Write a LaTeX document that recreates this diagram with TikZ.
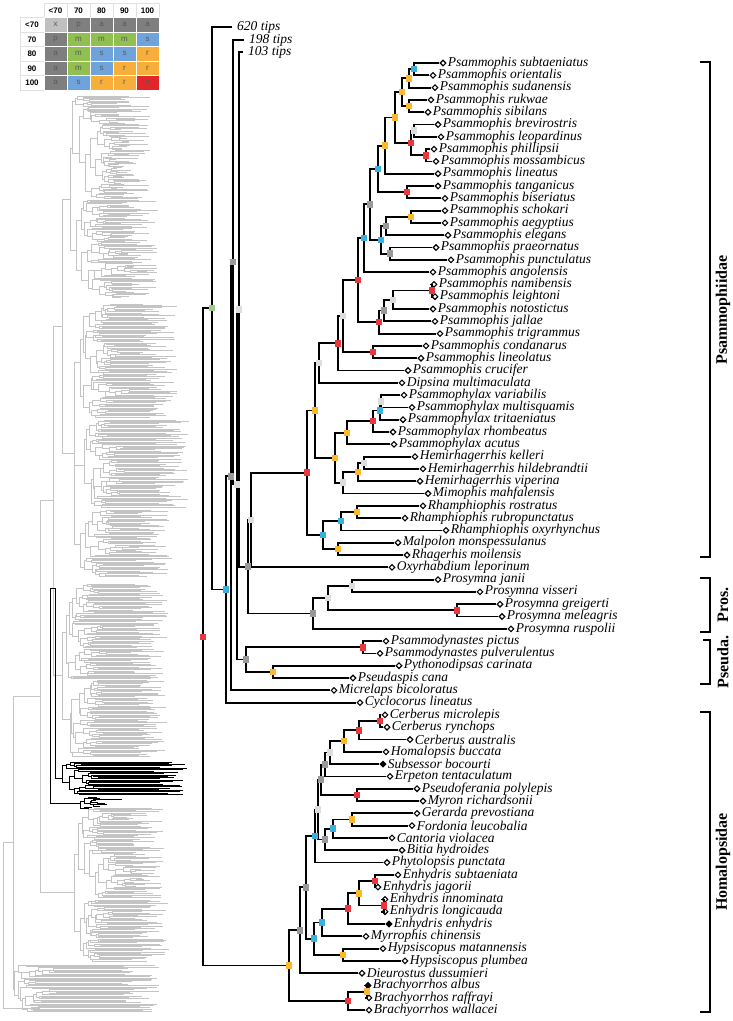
\documentclass[tikz,border=0pt]{standalone}
\usepackage{fontspec}
\setmainfont{Liberation Serif}
\newfontfamily\legendfont{Liberation Sans}
\usetikzlibrary{shapes.geometric,calc}
\pgfdeclarelayer{marks}
\pgfsetlayers{main,marks}
\definecolor{ppyel}{HTML}{F9B82E}
\definecolor{ppblue}{HTML}{3AB0E2}
\definecolor{ppred}{HTML}{E8383D}
\definecolor{ppgray}{HTML}{999999}
\definecolor{pplight}{HTML}{DDDDDD}
\definecolor{ppgreen}{HTML}{9ACD88}
\definecolor{thumbgray}{HTML}{C4C4C4}
\definecolor{cellx}{HTML}{C0C0C0}
\definecolor{cellp}{HTML}{7F7F7F}
\definecolor{cella}{HTML}{7F7F7F}
\definecolor{cellm}{HTML}{92C050}
\definecolor{cells}{HTML}{6FA3DC}
\definecolor{cellr}{HTML}{F7AE3A}
\definecolor{cellu}{HTML}{E3262B}
\newcommand{\tip}[5][]{%
  \node[tip,#1] (#2) at (#3,{63+(#4-1)*12.3}) {};
  \node[taxon] at (#2.east) {#5};}
\newcommand{\clade}[5]{%
  \coordinate (#1m) at ($(#3)!0.5!(#4)$);
  \coordinate (#1) at (#2,0 |- #1m);
  \draw[branch] (#3) -| (#1) |- (#4);
  \begin{pgfonlayer}{marks}\node[sq,fill=#5] at (#1) {};\end{pgfonlayer}}
% random subtree for the overview: top y, tips, x, right limit, style
\newcommand{\rtree}[5]{%
  \ifnum#2<2\relax
    \pgfmathsetmacro\rtend{max(#3+3,#4-rnd*38)}%
    \draw[#5] (#3,#1) -- (\rtend,#1);%
  \else
    \pgfmathtruncatemacro\rtna{max(1,min(#2-1,round(#2*(0.1+0.8*rnd))))}%
    \pgfmathtruncatemacro\rtnb{#2-\rtna}%
    \pgfmathsetmacro\rttb{#1+\rtna*1.3}%
    \pgfmathsetmacro\rtya{#1+(\rtna-1)*0.65}%
    \pgfmathsetmacro\rtyb{\rttb+(\rtnb-1)*0.65}%
    \pgfmathsetmacro\rtxa{#3+1+rnd*7}%
    \pgfmathsetmacro\rtxb{#3+1+rnd*7}%
    \draw[#5] (\rtxa,\rtya) -- (#3,\rtya) -- (#3,\rtyb) -- (\rtxb,\rtyb);%
    \edef\rtcalla{\noexpand\rtree{#1}{\rtna}{\rtxa}{#4}{#5}}%
    \edef\rtcallb{\noexpand\rtree{\rttb}{\rtnb}{\rtxb}{#4}{#5}}%
    \begingroup\rtcalla\endgroup
    \begingroup\rtcallb\endgroup
  \fi}

\begin{document}
\begin{tikzpicture}[x=1pt,y=-1pt,
  branch/.style={line width=1.8pt},
  tip/.style={diamond,draw,fill=white,line width=1.1pt,inner sep=0pt,minimum size=6pt},
  taxon/.style={anchor=west,inner sep=1pt,font=\fontsize{13.5}{14}\selectfont\itshape},
  collapsed/.style={anchor=west,inner xsep=5pt,inner ysep=0pt,font=\fontsize{13.5}{14}\selectfont\itshape},
  sq/.style={rectangle,inner sep=0pt,minimum size=6.5pt},
  thumb/.style={thumbgray,line width=0.95pt},
  hilite/.style={black,line width=0.95pt},
  bracket/.style={line width=2pt},
  grp/.style={rotate=90,font=\fontsize{16}{16}\selectfont\bfseries},
  cell/.style={minimum width=23pt,minimum height=14.5pt,inner sep=0pt,draw=white,line width=0.8pt,font=\legendfont\fontsize{8}{8}\selectfont},
  hcell/.style={cell,draw=black!12,font=\legendfont\fontsize{8}{8}\selectfont\bfseries}]
\useasboundingbox (0,0) rectangle (733,1021);

% legend
\foreach \lab [count=\c] in {<70,70,80,90,100}
  \node[hcell] (hd\c) at ({21+23*\c+11.5},10.5) {\lab};
\foreach \lab/\va/\vb/\vc/\vd/\ve [count=\r] in {<70/x/p/a/a/a, 70/p/m/m/m/s, 80/a/m/s/s/r, 90/a/m/s/r/r, 100/a/s/r/r/u}{
  \node[hcell,minimum width=24pt] (rw\r) at (32,{17.5+14.5*\r-7.25}) {\lab};
  \foreach \v [count=\c] in {\va,\vb,\vc,\vd,\ve}
    \node[cell,fill=cell\v,text=black!65] at ({21+23*\c+11.5},{17.5+14.5*\r-7.25}) {\v};
}

% overview tree
\pgfmathsetseed{23}
\foreach \ya/\nt/\xs/\xr in {96/80/72/150, 200/76/76/158, 304/88/80/178, 420/68/84/190, 510/52/80/172,
  584/74/66/168, 680/60/70/172, 808/70/78/165, 900/48/80/170, 965/37/14/160}
  {\rtree{\ya}{\nt}{\xs}{\xr}{thumb}}
\draw[thumb] (70,148) -- (72,148) (70,250) -- (76,250) (70,148) -- (70,250)
  (74,362) -- (80,362) (74,465) -- (84,465) (74,544) -- (80,544) (74,362) -- (74,544)
  (62,199) -- (70,199) (62,453) -- (74,453) (62,199) -- (62,453)
  (62,632) -- (66,632) (62,719) -- (70,719) (62,632) -- (62,719)
  (53,326) -- (62,326) (53,675) -- (62,675) (53,326) -- (53,675)
  (74,854) -- (78,854) (74,931) -- (80,931) (74,854) -- (74,931)
  (40,500) -- (53,500) (40,892) -- (74,892) (40,500) -- (40,892)
  (13,696) -- (40,696) (13,989) -- (14,989) (13,696) -- (13,989)
  (3,842) -- (13,842) (3,842) -- (3,1008) (3,1008) -- (40,1008);
\draw[hilite] (50,588) -- (55,588) (55,588) -- (55,778) -- (62,778) (50,588) -- (50,803) -- (80,803);
\rtree{762}{26}{62}{190}{hilite}
\rtree{797}{10}{80}{122}{hilite}

% tips
\tip{t1}{443}{1}{Psammophis subtaeniatus}
\tip{t2}{433}{2}{Psammophis orientalis}
\tip{t3}{435}{3}{Psammophis sudanensis}
\tip{t4}{431}{4}{Psammophis rukwae}
\tip{t5}{428}{5}{Psammophis sibilans}
\tip{t6}{438}{6}{Psammophis brevirostris}
\tip{t7}{441}{7}{Psammophis leopardinus}
\tip{t8}{434}{8}{Psammophis phillipsii}
\tip{t9}{436}{9}{Psammophis mossambicus}
\tip{t10}{438}{10}{Psammophis lineatus}
\tip{t11}{438}{11}{Psammophis tanganicus}
\tip{t12}{445}{12}{Psammophis biseriatus}
\tip{t13}{445}{13}{Psammophis schokari}
\tip{t14}{445}{14}{Psammophis aegyptius}
\tip{t15}{448}{15}{Psammophis elegans}
\tip{t16}{436}{16}{Psammophis praeornatus}
\tip{t17}{451}{17}{Psammophis punctulatus}
\tip{t18}{433}{18}{Psammophis angolensis}
\tip{t19}{434}{19}{Psammophis namibensis}
\tip{t20}{435}{20}{Psammophis leightoni}
\tip{t21}{433}{21}{Psammophis notostictus}
\tip{t22}{435}{22}{Psammophis jallae}
\tip{t23}{440}{23}{Psammophis trigrammus}
\tip{t24}{426}{24}{Psammophis condanarus}
\tip{t25}{421}{25}{Psammophis lineolatus}
\tip{t26}{408}{26}{Psammophis crucifer}
\tip{t27}{402}{27}{Dipsina multimaculata}
\tip{t28}{404}{28}{Psammophylax variabilis}
\tip{t29}{412}{29}{Psammophylax multisquamis}
\tip{t30}{403}{30}{Psammophylax tritaeniatus}
\tip{t31}{393}{31}{Psammophylax rhombeatus}
\tip{t32}{394}{32}{Psammophylax acutus}
\tip{t33}{415}{33}{Hemirhagerrhis kelleri}
\tip{t34}{423}{34}{Hemirhagerrhis hildebrandtii}
\tip{t35}{420}{35}{Hemirhagerrhis viperina}
\tip{t36}{428}{36}{Mimophis mahfalensis}
\tip{t37}{423}{37}{Rhamphiophis rostratus}
\tip{t38}{405}{38}{Rhamphiophis rubropunctatus}
\tip{t39}{446}{39}{Rhamphiophis oxyrhynchus}
\tip{t40}{398}{40}{Malpolon monspessulanus}
\tip{t41}{407}{41}{Rhagerhis moilensis}
\tip{t42}{392}{42}{Oxyrhabdium leporinum}
\tip{t43}{438}{43}{Prosymna janii}
\tip{t44}{480}{44}{Prosymna visseri}
\tip{t45}{500}{45}{Prosymna greigerti}
\tip{t46}{502}{46}{Prosymna meleagris}
\tip{t47}{511}{47}{Prosymna ruspolii}
\tip{t48}{386}{48}{Psammodynastes pictus}
\tip{t49}{380}{49}{Psammodynastes pulverulentus}
\tip{t50}{399}{50}{Pythonodipsas carinata}
\tip{t51}{353}{51}{Pseudaspis cana}
\tip{t52}{334}{52}{Micrelaps bicoloratus}
\tip{t53}{360}{53}{Cyclocorus lineatus}
\tip{t54}{385}{54}{Cerberus microlepis}
\tip{t55}{387}{55}{Cerberus rynchops}
\tip{t56}{410}{56}{Cerberus australis}
\tip{t57}{386}{57}{Homalopsis buccata}
\tip[fill=black]{t58}{383}{58}{Subsessor bocourti}
\tip{t59}{390}{59}{Erpeton tentaculatum}
\tip{t60}{417}{60}{Pseudoferania polylepis}
\tip{t61}{423}{61}{Myron richardsonii}
\tip{t62}{417}{62}{Gerarda prevostiana}
\tip{t63}{412}{63}{Fordonia leucobalia}
\tip{t64}{392}{64}{Cantoria violacea}
\tip{t65}{402}{65}{Bitia hydroides}
\tip{t66}{387}{66}{Phytolopsis punctata}
\tip{t67}{398}{67}{Enhydris subtaeniata}
\tip{t68}{378}{68}{Enhydris jagorii}
\tip{t69}{385}{69}{Enhydris innominata}
\tip{t70}{385}{70}{Enhydris longicauda}
\tip[fill=black]{t71}{389}{71}{Enhydris enhydris}
\tip{t72}{366}{72}{Myrrophis chinensis}
\tip{t73}{383}{73}{Hypsiscopus matannensis}
\tip{t74}{405}{74}{Hypsiscopus plumbea}
\tip{t75}{362}{75}{Dieurostus dussumieri}
\tip[fill=black]{t76}{368}{76}{Brachyorrhos albus}
\tip{t77}{369}{77}{Brachyorrhos raffrayi}
\tip{t78}{369}{78}{Brachyorrhos wallacei}
\node[collapsed] (c620) at (232,27) {620 tips};
\node[collapsed] (c198) at (244,40) {198 tips};
\node[collapsed] (c103) at (243,52) {103 tips};

% Psammophiidae
\clade{n1}{414}{t1}{t2}{ppblue}
\clade{n2}{409}{n1}{t3}{ppyel}
\clade{n3}{409}{t4}{t5}{ppyel}
\clade{n4}{402}{n2}{n3}{ppyel}
\clade{n5}{414}{t6}{t7}{pplight}
\clade{n6}{426}{t8}{t9}{ppred}
\clade{n7}{411}{n5}{n6}{ppred}
\clade{n8}{395}{n4}{n7}{ppyel}
\clade{n9}{385}{n8}{t10}{ppyel}
\clade{n10}{407}{t11}{t12}{ppred}
\clade{n11}{378}{n9}{n10}{ppblue}
\clade{n12}{411}{t13}{t14}{ppyel}
\clade{n13}{386}{n12}{t15}{ppgray}
\clade{n14}{390}{t16}{t17}{ppgray}
\clade{n15}{381}{n13}{n14}{ppblue}
\clade{n16}{370}{n11}{n15}{ppgray}
\clade{n17}{364}{n16}{t18}{ppblue}
\clade{n18}{432}{t19}{t20}{ppred}
\clade{n19}{393}{n18}{t21}{pplight}
\clade{n20}{384}{n19}{t22}{ppgray}
\clade{n21}{379}{n20}{t23}{ppred}
\clade{n22}{358}{n17}{n21}{ppred}
\clade{n23}{373}{t24}{t25}{ppred}
\clade{n24}{343}{n22}{n23}{pplight}
\clade{n25}{338}{n24}{t26}{ppred}
\clade{n26}{319}{n25}{t27}{pplight}
\clade{n28}{381}{t28}{t29}{pplight}
\clade{n29}{380}{n28}{t30}{ppblue}
\clade{n30}{373}{n29}{t31}{ppred}
\clade{n31}{347}{n30}{t32}{ppyel}
\clade{n32}{364}{t33}{t34}{pplight}
\clade{n33}{358}{n32}{t35}{ppyel}
\clade{n34}{343}{n33}{t36}{pplight}
\clade{n35}{335}{n31}{n34}{ppyel}
\clade{n27}{315}{n26}{n35}{ppyel}
\clade{n37}{357}{t37}{t38}{ppyel}
\clade{n38}{341}{n37}{t39}{ppblue}
\clade{n39}{338}{t40}{t41}{ppyel}
\clade{n40}{323}{n38}{n39}{ppblue}
\clade{n41}{307}{n27}{n40}{ppred}
\clade{n42}{251}{n41}{t42}{pplight}
% Prosymna, Pseudaspis group
\clade{n43}{352}{t43}{t44}{pplight}
\clade{n44}{457}{t45}{t46}{ppred}
\clade{n45}{328}{n43}{n44}{pplight}
\clade{n46}{313}{n45}{t47}{ppgray}
\clade{n47}{248}{n42}{n46}{ppgray}
\clade{n48}{363}{t48}{t49}{ppred}
\clade{n49}{273}{t50}{t51}{ppyel}
\clade{n50}{246}{n48}{n49}{ppgray}
% backbone
\clade{bX}{239}{c103}{n47}{pplight}
\clade{bE}{237}{bX}{n50}{pplight}
\clade{bD}{233}{c198}{bE}{ppgray}
\clade{bC}{231}{bD}{t52}{ppgray}
\clade{bB}{226}{bC}{t53}{ppblue}
\clade{bG}{212}{c620}{bB}{ppgreen}
% Homalopsidae
\clade{h1}{380}{t54}{t55}{ppred}
\clade{h2}{359}{h1}{t56}{ppred}
\clade{h3}{344}{h2}{t57}{ppyel}
\clade{h4}{330}{h3}{t58}{pplight}
\clade{h5}{325}{h4}{t59}{ppgray}
\clade{h6}{357}{t60}{t61}{ppred}
\clade{h7}{321}{h5}{h6}{ppgray}
\clade{h8}{352}{t62}{t63}{ppyel}
\clade{h9}{333}{h8}{t64}{ppblue}
\clade{h10}{325}{h9}{t65}{ppgray}
\clade{h11}{318}{h7}{h10}{pplight}
\clade{h12}{315}{h11}{t66}{ppblue}
\clade{h13}{375}{t67}{t68}{ppred}
\clade{h14}{384}{t69}{t70}{ppred}
\clade{h15}{359}{h13}{h14}{ppyel}
\clade{h16}{348}{h15}{t71}{ppred}
\clade{h17}{322}{h16}{t72}{ppblue}
\clade{h18}{343}{t73}{t74}{ppyel}
\clade{h19}{314}{h17}{h18}{ppblue}
\clade{h20}{306}{h12}{h19}{ppgray}
\clade{h21}{300}{h20}{t75}{ppgray}
\clade{h22}{367}{t76}{t77}{ppyel}
\clade{h23}{348}{h22}{t78}{ppred}
\clade{h24}{289}{h21}{h23}{ppyel}
\clade{root}{203}{bG}{h24}{ppred}

% family brackets
\draw[bracket] (700,62) -- (710,62) -- (710,557) -- (700,557);
\draw[bracket] (700,578) -- (710,578) -- (710,632) -- (700,632);
\draw[bracket] (700,684) -- (710,684) -- (710,640) -- (703,640);
\draw[bracket] (700,712) -- (710,712) -- (710,1012) -- (700,1012);
\node[grp] (psam) at (723,310) {Psammophiidae};
\node[grp] (pros) at (723,605) {Pros.};
\node[grp] (pseu) at (723,662) {Pseuda.};
\node[grp] (homa) at (723,862) {Homalopsidae};
\end{tikzpicture}
\end{document}
